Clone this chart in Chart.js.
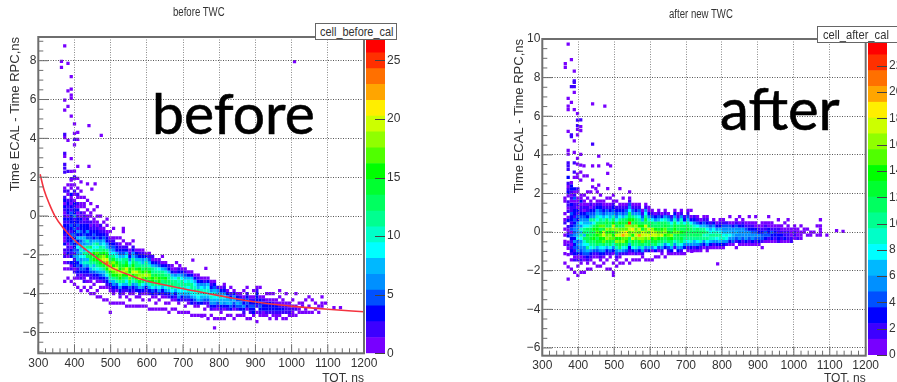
<!DOCTYPE html>
<html lang="en">
<head>
<meta charset="UTF-8">
<title>before / after TWC</title>
<script src="https://cdn.jsdelivr.net/npm/chart.js@4.4.0"></script>
<style>
    html, body { margin: 0; padding: 0; background: #fff; width: 897px; height: 382px; overflow: hidden; }
    #page { position: relative; width: 897px; height: 382px; overflow: hidden; filter: blur(0.45px); }
    canvas { position: absolute; top: 0; }
    .box { position: absolute; background: #fff; border: 1.5px solid #666; box-sizing: border-box; height: 17px; }
    .label { position: absolute; font: 13px/15px "Liberation Sans", sans-serif; color: #333; white-space: nowrap; transform-origin: left top; }
    .word { position: absolute; font-family: Lato, sans-serif; color: #000; white-space: nowrap; -webkit-text-stroke: 0.6px #000; }
</style>
</head>
<body>
<div id="page">
    <canvas id="beforeMain"></canvas>
    <canvas id="beforeBar"></canvas>
    <canvas id="afterMain"></canvas>
    <canvas id="afterBar"></canvas>
    <div class="box" style="left:315px;top:23px;width:82px"></div>
    <div class="label" style="left:320px;top:24px;transform:scaleX(0.84)">cell_before_cal</div>
    <div class="box" style="left:817px;top:26px;width:95px"></div>
    <div class="label" style="left:823px;top:27px;transform:scaleX(0.86)">cell_after_cal</div>
    <div class="label" style="left:173px;top:5px;font-size:12px;transform:scaleX(0.8)">before TWC</div>
    <div class="label" style="left:669px;top:7px;font-size:12px;transform:scaleX(0.8)">after new TWC</div>
    <div class="word" style="left:152px;top:78px;font-size:57px">before</div>
    <div class="word" style="left:720px;top:73px;font-size:58px">after</div>
</div>
<script>
const palette = ['#7800ff','#3c00ff','#0000ff','#0050ff','#0090ff','#00b8ff','#00ffff','#00ffc8','#00ff90','#00ff60',
                 '#00ff30','#00ff00','#50ff00','#90ff00','#ccff00','#ffee00','#ffa500','#ff7000','#ff3000','#ff0000'];
const xMajor = [300,400,500,600,700,800,900,1000,1100,1200];
const xMinor = [320,340,360,380,420,440,460,480,520,540,560,580,620,640,660,680,720,740,760,780,820,840,860,880,920,940,960,980,1020,1040,1060,1080,1120,1140,1160,1180];
const beforeYTicks = [-6,-4,-2,0,2,4,6,8];
const beforeYMinor = [-7,-6.5,-5.5,-5,-4.5,-3.5,-3,-2.5,-1.5,-1,-0.5,0.5,1,1.5,2.5,3,3.5,4.5,5,5.5,6.5,7,7.5,8.5,9];
const afterYTicks = [-6,-4,-2,0,2,4,6,8,10];
const afterYMinor = [-5.5,-5,-4.5,-3.5,-3,-2.5,-1.5,-1,-0.5,0.5,1,1.5,2.5,3,3.5,4.5,5,5.5,6.5,7,7.5,8.5,9,9.5];
const beforeZTicks = [0,5,10,15,20,25];
const afterZTicks = [0,2,4,6,8,10,12,14,16,18,20,22,24];

// fit curve
const fitTot = [305,316,331,346,369,400,450,500,550,600,650,700,800,900,1000,1100,1200];
const fitVal = [2.15,1.34,0.6,0,-0.62,-1.24,-2.0,-2.63,-3.03,-3.35,-3.55,-3.75,-4.1,-4.43,-4.64,-4.8,-4.93];

// heat columns: TOT bin, lowest y of the column, counts upward in 0.16 steps (base 36 digits)
const beforeTot = [373,382,391,400,409,418,427,436,445,454,463,472,481,490,499,508,517,526,535,544,553,562,571,580,589,598,607,616,625,634,643,652,661,670,679,688,697,706,715,724,733,742,751,760,769,778,787,796,805,814,823,832,841,850,859,868,877,886,895,904,913,922,931,940,949,958,967,976,985,994,1003,1012,1021,1030,1039,1048,1057,1066,1075,1084,1094,1117,1135];
const beforeLow = [-3.36,-3.2,-3.36,-3.52,-3.68,-3.84,-3.68,-3.84,-4.0,-4.0,-4.16,-4.16,-4.32,-4.32,-4.96,-4.48,-4.48,-4.48,-4.48,-4.64,-4.64,-4.64,-4.64,-4.64,-4.64,-4.64,-4.8,-4.8,-4.8,-4.8,-4.8,-4.8,-4.96,-4.8,-4.8,-4.96,-4.96,-4.96,-4.96,-5.12,-5.12,-5.12,-5.12,-5.12,-5.28,-5.12,-5.28,-5.28,-5.28,-5.28,-5.12,-5.12,-5.28,-5.12,-5.12,-5.12,-5.28,-5.28,-5.12,-5.44,-5.12,-5.12,-5.12,-5.28,-5.12,-5.28,-5.12,-5.28,-5.28,-5.12,-5.12,-5.12,-4.96,-4.96,-4.96,-4.96,-4.96,-4.8,-4.96,-4.64,-4.48,-4.72,-4.72];
const beforeCounts = ['1000101021203112324232124132021','1001020132214342332413423201201','1000213032415345245334523121301102','10102134262543645354326432310120101','100123254786595473625432131201201','1000213537698a7658453423120110101','10212457a89c7a6785343212101101','100102346a8db9c7a5463322101001','101012258acdeb9d86543212011001','10010235a7cfdgb9a74532211001','1010012469bdgfhc9b753421101001','100101358adfihecb8643212001','1000102468cehkifda975321010','100012359bfhnjgeb8643210101','10010001247adfjmhdc97532101','10012468cfhkgieb965321001','1000135adgikhfc9743201','1012469cfhjgeda85321010','1001247bdgkhecb7542010011','100102479cfikfeb974210','1010135bdhjgfc9642101','10001246adgkhfdb863201','10010358cfhjecb75310','1001247bekihfca7421','10101369dhigdb86321','10001248cfjhecb7310','10010247aehifda85210','10001359cfgdcb7412','10101248bdheca6310','10010369cfgdb9521','10001247bcedb84101','10101369cdfca631','10010248acdbc7420','1001369bdca8311','1001247acb96210','10013689bcab8420','10002479acb96310','10102579ab98521','1001258a9ca7410','10003469abb97310','10012589ba97410','1001479ab86421','10003689a96310','1010258aa8621','100012579a97310','102468a96421','10013679a8531','100125898620','1012478a6310','100136896421','1024786310','1035764201','1001357641','10257531','10356521','124643101','10013553201','10245421','134532101','100102344321','1235331001','1134321','12443101','102333101','12342101','1123311','123210101','1023211','102221001','12211','112101','10210001','1101','1011','11001','101001','10001','101','101','1101','1','1','1'];
const beforeOutTot = [373,364,382,364,391,391,382,391,391,373,373,382,391,400,440,409,400,373,373,474,400,382,409,400,373,373,391,373,373,373,409,440,391,400,382,400,391,409,418,436,457,448,1008,682,691,727,763,787,752];
const beforeOutVal = [8.76,7.97,7.86,7.66,7.18,6.54,6.45,6.23,6.06,5.97,5.46,5.65,5.15,4.75,4.65,4.31,4.26,4.2,4.04,4.15,3.95,3.9,3.95,3.66,3.23,3.07,2.95,2.66,2.47,2.26,2.56,2.56,2.3,2.31,2.3,2.02,1.85,1.94,1.76,1.65,1.65,1.39,7.95,-2.4,-2.55,-2.27,-2.7,-5.76,-5.15];
const beforeOutN = [1,1,1,1,1,1,1,1,1,1,1,1,1,1,1,1,1,2,1,1,2,1,1,1,2,1,1,2,2,2,1,1,1,1,2,2,1,1,1,1,1,1,1,1,1,1,1,1,1];

const afterTot = [363,372,381,390,399,408,417,426,435,444,453,462,471,480,489,498,507,516,525,534,543,552,561,570,579,588,597,606,615,624,633,642,651,660,669,678,687,696,705,714,723,732,741,750,759,768,777,786,795,804,813,822,831,840,849,858,867,876,885,894,903,912,921,930,939,948,957,966,975,984,993,1002,1011,1020,1029,1038,1047,1056,1065,1074,1092,1119,1137];
const afterLow = [-1.6,-2.44,-1.92,-2.08,-2.24,-2.08,-2.08,-1.92,-1.92,-1.6,-1.76,-1.76,-1.6,-1.92,-1.92,-2.24,-1.76,-1.6,-1.6,-1.44,-1.6,-1.44,-1.44,-1.44,-1.28,-1.44,-1.44,-1.44,-1.28,-1.28,-1.12,-1.28,-1.12,-1.12,-1.12,-1.12,-1.12,-1.12,-0.96,-0.96,-0.96,-0.96,-0.96,-0.8,-0.96,-0.8,-0.8,-0.8,-0.8,-0.8,-0.64,-0.64,-0.64,-0.8,-0.64,-0.64,-0.64,-0.64,-0.64,-0.64,-0.64,-0.8,-0.48,-0.48,-0.48,-0.48,-0.48,-0.48,-0.48,-0.48,-0.48,-0.32,-0.32,-0.32,-0.16,-0.16,-0.16,-0.16,-0.16,-0.16,-0.16,0.08,0.04];
const afterCounts = ['1001001101010210100011','1000100010121032120310212201321203','10010232123414323342231212331','1000213243535464342332214213','10010213546487566534231211012','100121346758a7968543221311','10001246589b7ca87543121101','1012347a8cbdac875342210101','10012358acdbcb97a643121001','101249acedbec8a6432101','1001247bdcefedb8975321001','1012358adefecfba85432101','101368cfeihdfb9743211','10010237adgfegcdb8642101','10001248cdfgefbc97532101','11001001369bfedgiec96432101','1012469cgehfgdb8543201','10127bdfehgfcea85321','100258cgfkhfcdb7432101','10249befhjfgdb96421','1001237acgfigmebc8542101','10138bdhegjfcea6421','10249acfigfgdb96321','10137bdgkfheca85421','1259cfgihdeb7421','10026adfigficda8521','10037bcgifhdb95311','10015adehigcb8421','1038bdfigeca6310','10149cegfdcb7421','1259bdhfecb8310','10036acegfdc9521','1248bdfecba741','137acegdca842','10259bcfedb9631','1369acdfcb8421','1258bdcecba9521','10369acdcb8320','1258acbdca7421','1369abcba83101','1257acba96320','1368abcb8421','1249acba7310','136a9ba7421','1258a9a86321','1379a87420','1269a98531','1368a96310','1379a87321','1369876421','258976420','1368764101','14676531','1024676421','1356653101','124655321','13565421','1245532101','13554321','1245431101','1345321','102443211','1344221','124331101','1334211','123321','23322101','123211','1322101','12221101','22111','12211','2111','11101','011','101','11','01','1001','111101','1','1','1'];
const afterOutTot = [372,381,364,364,389,389,389,381,389,389,372,381,372,372,389,440,474,398,407,398,407,398,398,372,407,381,381,398,389,440,372,372,389,407,398,457,372,372,372,389,398,407,416,440,457,482,490,389,407,398,416,425,482,398,389,407,440,457,440,482,516,449,788,716];
const afterOutVal = [9.74,8.93,8.73,8.53,8.34,7.83,7.75,7.54,7.54,7.23,6.93,6.72,6.53,6.34,6.34,6.64,6.53,6.14,5.81,5.8,5.46,5.51,5.32,5.22,5.25,5.03,4.94,5.03,4.72,4.55,4.23,4.04,4.13,4.03,3.82,3.94,3.59,3.43,3.25,3.59,3.52,3.47,3.43,3.43,3.43,3.52,3.43,3.11,3.11,3.0,2.91,2.91,3.04,2.83,2.83,2.69,2.69,2.43,2.34,2.25,2.25,2.25,-1.65,-1.0];
const afterOutN = [1,1,1,1,1,2,2,2,2,1,1,1,1,1,1,1,1,1,2,2,1,2,1,1,1,2,2,1,1,2,1,1,1,1,1,1,2,2,2,2,1,1,1,1,1,1,1,2,1,1,1,1,1,1,1,1,1,1,1,1,1,1,1,1];

const SANS = '"Liberation Sans", sans-serif';
const AXIS = '#6e6e6e';

function cellsFrom(tot, low, counts, outTot, outVal, outN) {
    const cells = [];
    tot.forEach((t, i) => {
        [...counts[i]].forEach((c, j) => {
            const n = parseInt(c, 36);
            if (n > 0) cells.push({ x: t, y: low[i] + j * 0.16, n });
        });
    });
    outTot.forEach((t, i) => cells.push({ x: t, y: outVal[i], n: outN[i] }));
    return cells;
}

// ROOT style frame and inward ticks
const frameTicks = {
    id: 'frameTicks',
    afterDraw(chart, args, o) {
        const { ctx, chartArea: a, scales } = chart;
        ctx.save();
        ctx.strokeStyle = AXIS;
        ctx.lineWidth = 1;
        ctx.beginPath();
        o.xMajor.forEach(v => { const p = scales.x.getPixelForValue(v); ctx.moveTo(p, a.bottom); ctx.lineTo(p, a.bottom - 9); });
        o.xMinor.forEach(v => { const p = scales.x.getPixelForValue(v); ctx.moveTo(p, a.bottom); ctx.lineTo(p, a.bottom - 5); });
        o.yMajor.forEach(v => { const p = scales.y.getPixelForValue(v); ctx.moveTo(a.left, p); ctx.lineTo(a.left + 10, p); });
        o.yMinor.forEach(v => { const p = scales.y.getPixelForValue(v); ctx.moveTo(a.left, p); ctx.lineTo(a.left + 5, p); });
        ctx.stroke();
        ctx.lineWidth = 2;
        ctx.strokeRect(a.left, a.top, a.width, a.height);
        ctx.restore();
    }
};

function mainChart(id, left, w, cfg) {
    const canvas = document.getElementById(id);
    canvas.style.left = left + 'px';
    canvas.width = w;
    canvas.height = 386;
    const heat = cellsFrom(cfg.tot, cfg.low, cfg.counts, cfg.outTot, cfg.outVal, cfg.outN);
    const datasets = [{
        data: heat,
        pointStyle: 'rect',
        pointRadius: 2.3,
        pointHoverRadius: 2.3,
        borderWidth: 0,
        pointBorderWidth: 0,
        pointBackgroundColor: heat.map(c => palette[Math.min(19, Math.floor(c.n / cfg.zMax * 20))]),
        order: 2
    }];
    if (cfg.fitTot) {
        datasets.push({
            data: cfg.fitTot.map((t, i) => ({ x: t, y: cfg.fitVal[i] })),
            showLine: true,
            borderColor: '#f4333f',
            borderWidth: 1.6,
            pointRadius: 0,
            cubicInterpolationMode: 'monotone',
            order: 1
        });
    }
    new Chart(canvas, {
        type: 'scatter',
        data: { datasets },
        plugins: [frameTicks],
        options: {
            responsive: false,
            animation: false,
            events: [],
            layout: { padding: { left: 0, right: cfg.padRight, top: cfg.top, bottom: cfg.bottom } },
            scales: {
                x: {
                    type: 'linear', min: 300, max: 1200,
                    afterBuildTicks: s => { s.ticks = xMajor.map(v => ({ value: v })); },
                    afterFit: s => { s.height = cfg.xHeight; },
                    grid: { color: '#8a8a8a', drawTicks: false, lineWidth: 1, z: 1 },
                    border: { dash: [1, 1.5], display: false },
                    ticks: { color: '#333', font: { family: SANS, size: 12 }, padding: 3, maxRotation: 0, autoSkip: false, callback: v => String(v) },
                    title: { display: true, text: 'TOT, ns', align: 'end', color: '#333', font: { family: SANS, size: 12 }, padding: { top: 0, bottom: 0 } }
                },
                y: {
                    type: 'linear', min: cfg.yMin, max: cfg.yMax,
                    afterBuildTicks: s => { s.ticks = cfg.yTicks.map(v => ({ value: v })); },
                    afterFit: s => { s.width = cfg.yWidth; },
                    grid: { color: '#555', drawTicks: false, lineWidth: 1, z: 1 },
                    border: { dash: [1, 1.5], display: false },
                    ticks: { color: '#333', font: { family: SANS, size: 12 }, padding: 2, autoSkip: false, callback: v => String(v).replace('-', '\u2212') },
                    title: { display: true, text: 'Time ECAL - Time RPC,ns', align: 'end', color: '#333', font: { family: SANS, size: 13 }, padding: { top: cfg.yTitleTop, bottom: 0 } }
                }
            },
            plugins: {
                legend: { display: false },
                tooltip: { enabled: false },
                frameTicks: { xMajor, xMinor, yMajor: cfg.yTicks, yMinor: cfg.yMinor }
            }
        }
    });
}

function colorBar(id, left, zMax, zTicks, top, xH) {
    const canvas = document.getElementById(id);
    canvas.style.left = left + 'px';
    canvas.width = 40;
    canvas.height = 382;
    new Chart(canvas, {
        type: 'bar',
        data: {
            labels: ['z'],
            datasets: palette.map(c => ({ data: [zMax / 20], backgroundColor: c, barPercentage: 1, categoryPercentage: 1, borderWidth: 0 }))
        },
        plugins: [{
            id: 'zTicks',
            afterDatasetsDraw(chart) {
                const { ctx, chartArea: a, scales } = chart;
                ctx.save();
                ctx.strokeStyle = '#444';
                ctx.beginPath();
                zTicks.forEach(v => { const p = Math.round(scales.y.getPixelForValue(v)) + 0.5; ctx.moveTo(a.right - 10, p); ctx.lineTo(a.right, p); });
                ctx.stroke();
                ctx.restore();
            }
        }],
        options: {
            responsive: false,
            animation: false,
            events: [],
            layout: { padding: { top, bottom: xH, left: 0, right: 0 } },
            scales: {
                x: { stacked: true, display: false },
                y: {
                    stacked: true, position: 'right', min: 0, max: zMax,
                    afterBuildTicks: s => { s.ticks = zTicks.map(v => ({ value: v })); },
                    afterFit: s => { s.width = 21; },
                    grid: { display: false, drawTicks: false, tickLength: 0 },
                    border: { display: false },
                    ticks: { color: '#333', font: { family: SANS, size: 12 }, padding: 2, autoSkip: false }
                }
            },
            plugins: { legend: { display: false }, tooltip: { enabled: false } }
        }
    });
}

mainChart('beforeMain', 0, 394, {
    tot: beforeTot, low: beforeLow, counts: beforeCounts, outTot: beforeOutTot, outVal: beforeOutVal, outN: beforeOutN,
    fitTot, fitVal, zMax: 27, yMin: -7.07, yMax: 9.22, yTicks: beforeYTicks, yMinor: beforeYMinor,
    padRight: 30, top: 37, bottom: 0, xHeight: 32.7, yWidth: 38.3, yTitleTop: 8
});
colorBar('beforeBar', 366, 27, beforeZTicks, 37, 28.7);

mainChart('afterMain', 506, 395, {
    tot: afterTot, low: afterLow, counts: afterCounts, outTot: afterOutTot, outVal: afterOutVal, outN: afterOutN,
    zMax: 24.04, yMin: -6.4, yMax: 10, yTicks: afterYTicks, yMinor: afterYMinor,
    padRight: 35.3, top: 39, bottom: 0, xHeight: 30.3, yWidth: 36.3, yTitleTop: 6
});
colorBar('afterBar', 868, 24.04, afterZTicks, 39, 27);
</script>
</body>
</html>
